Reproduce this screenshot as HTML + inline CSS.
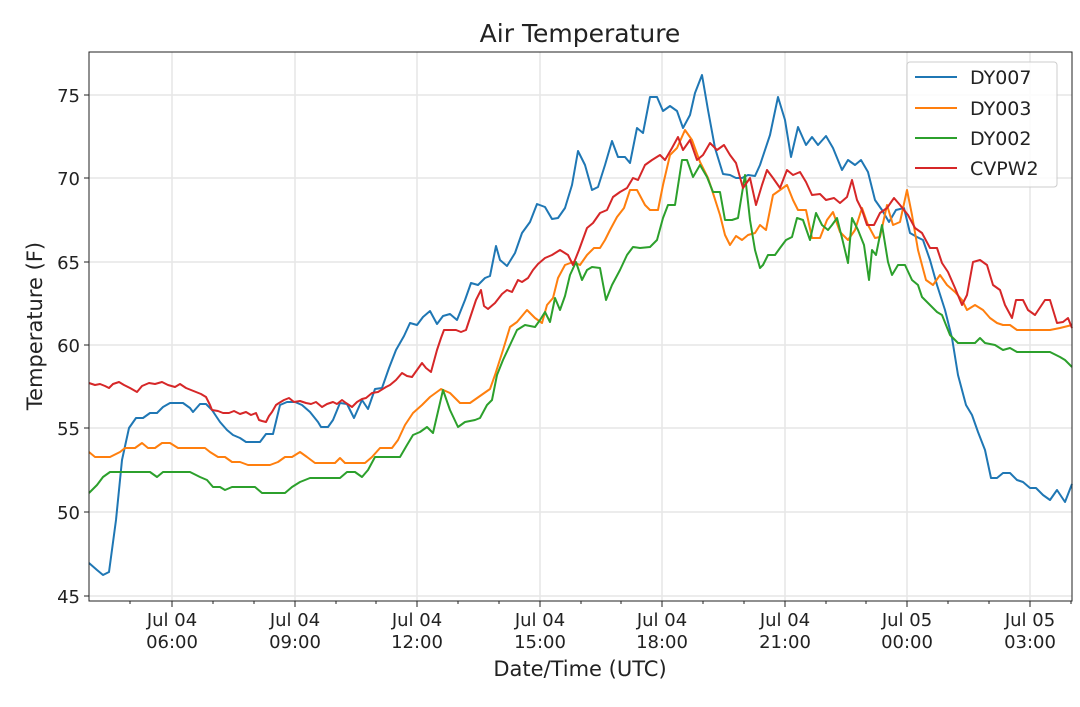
<!DOCTYPE html>
<html><head><meta charset="utf-8"><style>
body{margin:0;background:#fff;}
svg text{font-family:"DejaVu Sans","Liberation Sans",sans-serif;fill:#222;}
</style></head><body>
<svg width="1080" height="702" viewBox="0 0 1080 702" xmlns="http://www.w3.org/2000/svg">
<rect width="1080" height="702" fill="#fff"/>
<g stroke="#e6e6e6" stroke-width="1.5">
<line x1="172" y1="52" x2="172" y2="601"/><line x1="295" y1="52" x2="295" y2="601"/><line x1="417" y1="52" x2="417" y2="601"/><line x1="540" y1="52" x2="540" y2="601"/><line x1="662" y1="52" x2="662" y2="601"/><line x1="785" y1="52" x2="785" y2="601"/><line x1="907" y1="52" x2="907" y2="601"/><line x1="1030" y1="52" x2="1030" y2="601"/>
<line x1="89" y1="596" x2="1072" y2="596"/><line x1="89" y1="512" x2="1072" y2="512"/><line x1="89" y1="428" x2="1072" y2="428"/><line x1="89" y1="345" x2="1072" y2="345"/><line x1="89" y1="262" x2="1072" y2="262"/><line x1="89" y1="178" x2="1072" y2="178"/><line x1="89" y1="95" x2="1072" y2="95"/>
</g>
<g fill="none" stroke-width="2" stroke-linejoin="round">
<polyline stroke="#1f77b4" points="89,563 97,570 103,575 109,572 116,520 122,460 129,428 136,418 143,418 150,413 157,413 163,407 170,403 176,403 183,403 190,408 193,412 200,404 206,404 212,410 220,422 227,430 233,435 240,438 246,442 255,442 260,442 266,434 273,434 280,405 287,402 295,402 302,405 310,412 318,422 321,427 328,427 333,420 340,403 347,404 354,418 362,400 368,409 375,389 382,388 389,368 396,350 404,336 410,323 417,325 423,317 430,311 437,324 443,316 450,314 457,320 465,300 471,283 478,285 485,278 490,276 496,246 500,260 507,266 515,253 522,233 530,222 537,204 545,207 552,219 558,218 565,208 572,185 578,151 585,165 592,190 598,187 605,165 612,141 618,157 625,157 630,163 637,128 643,133 650,97 657,97 663,111 670,106 677,111 683,128 690,115 695,93 702,75 708,110 715,148 723,174 730,175 736,178 742,178 748,175 755,176 760,165 770,135 778,97 785,120 791,157 798,127 806,145 812,137 818,145 826,136 833,148 842,170 848,160 855,165 861,160 868,172 875,200 882,210 889,222 896,210 904,208 910,233 917,237 923,240 930,260 937,285 945,310 952,338 958,375 966,405 972,415 978,432 985,450 991,478 997,478 1003,473 1010,473 1017,480 1023,482 1030,488 1036,488 1043,495 1050,500 1057,490 1065,502 1072,484"/>
<polyline stroke="#ff7f0e" points="89,452 95,457 110,457 120,452 125,448 135,448 142,443 148,448 155,448 162,443 170,443 178,448 185,448 205,448 210,452 218,457 225,457 232,462 240,462 248,465 270,465 278,462 285,457 292,457 300,452 307,457 315,463 335,463 340,458 345,463 365,463 372,457 380,448 392,448 398,440 405,425 413,413 422,405 430,397 441,389 450,393 460,403 470,403 480,396 490,389 495,375 503,350 510,327 517,322 527,310 535,318 542,323 547,305 553,298 558,278 565,265 573,262 580,265 587,255 594,248 600,248 605,240 610,230 617,217 624,208 630,190 637,190 645,205 650,210 658,210 663,185 670,155 677,148 685,130 692,140 700,162 708,178 712,190 720,215 725,235 730,245 736,236 742,240 748,235 755,233 760,225 766,230 773,195 780,190 787,185 793,200 798,210 806,210 812,238 820,238 827,220 833,212 840,232 848,240 855,230 862,208 868,225 875,238 880,237 887,205 893,225 900,222 907,190 912,215 918,250 926,280 933,285 940,275 947,285 955,292 962,300 967,310 975,305 983,310 990,318 997,323 1003,325 1010,325 1017,330 1030,330 1040,330 1050,330 1060,328 1072,325"/>
<polyline stroke="#2ca02c" points="89,493 97,485 103,477 110,472 150,472 157,477 163,472 190,472 200,477 207,480 213,487 220,487 225,490 232,487 255,487 262,493 285,493 292,487 300,482 310,478 340,478 347,472 355,472 362,477 368,470 375,457 400,457 407,445 413,435 420,432 427,427 433,433 443,390 450,410 458,427 465,422 475,420 480,418 487,405 492,400 497,375 503,360 510,345 517,330 525,325 535,327 540,320 545,312 550,322 555,298 560,310 565,296 570,275 576,262 582,280 587,270 592,267 600,268 606,300 612,285 620,270 627,255 633,247 640,248 650,247 657,240 663,218 668,205 675,205 682,160 687,160 693,177 700,165 707,177 713,192 720,192 725,220 732,220 738,218 745,175 750,220 755,250 760,268 763,265 768,255 775,255 780,248 786,240 792,237 797,218 803,220 810,240 816,213 822,225 828,230 832,225 837,218 843,242 848,263 852,218 858,230 864,245 869,280 872,250 876,255 882,225 888,262 892,275 898,265 905,265 912,280 918,285 922,297 930,305 937,312 942,315 950,335 958,343 965,343 975,343 980,338 985,343 995,345 1003,350 1010,348 1017,352 1030,352 1050,352 1060,357 1065,360 1072,367"/>
<polyline stroke="#d62728" points="89,383 95,385 100,384 105,386 109,388 113,384 119,382 124,385 130,388 137,392 142,386 149,383 155,384 162,382 168,385 175,387 180,384 186,388 191,390 196,392 201,394 206,397 210,405 212,410 218,411 223,413 229,413 234,411 240,414 246,412 251,415 256,413 259,420 262,421 266,422 269,416 272,412 276,405 279,403 284,400 289,398 294,402 300,401 306,403 311,404 316,402 322,407 327,404 333,402 337,404 342,400 346,403 352,407 357,402 362,399 366,398 372,393 378,392 386,387 390,385 396,380 402,373 407,376 412,377 417,370 422,363 426,368 431,372 437,350 441,338 444,330 449,330 456,330 461,332 466,330 471,315 476,300 481,290 484,306 488,309 495,303 502,294 507,290 512,292 518,280 522,282 528,278 533,270 538,264 545,258 552,255 560,250 568,255 573,265 579,250 587,228 593,223 600,213 607,210 613,197 620,192 627,188 633,178 638,180 645,165 652,160 660,155 665,160 672,148 678,137 683,150 690,140 697,160 703,155 710,143 717,150 724,145 730,155 736,163 743,188 750,178 756,205 762,185 767,170 773,178 780,188 787,170 793,175 800,172 806,182 812,195 820,194 826,200 834,198 840,203 847,197 852,180 857,200 862,210 867,225 874,225 880,213 887,208 894,198 900,205 908,215 915,228 922,233 930,248 937,248 942,263 948,272 955,288 962,305 967,295 973,262 980,260 987,265 993,285 1000,290 1005,305 1012,318 1016,300 1023,300 1028,310 1035,315 1045,300 1050,300 1057,323 1063,322 1068,318 1072,328"/>
</g>
<rect x="89" y="52" width="983" height="549" fill="none" stroke="#222" stroke-width="1"/>
<g stroke="#222" stroke-width="1">
<line x1="84" y1="596" x2="89" y2="596"/><line x1="84" y1="512" x2="89" y2="512"/><line x1="84" y1="428" x2="89" y2="428"/><line x1="84" y1="345" x2="89" y2="345"/><line x1="84" y1="262" x2="89" y2="262"/><line x1="84" y1="178" x2="89" y2="178"/><line x1="84" y1="95" x2="89" y2="95"/>
<line x1="172" y1="601" x2="172" y2="607"/><line x1="295" y1="601" x2="295" y2="607"/><line x1="417" y1="601" x2="417" y2="607"/><line x1="540" y1="601" x2="540" y2="607"/><line x1="662" y1="601" x2="662" y2="607"/><line x1="785" y1="601" x2="785" y2="607"/><line x1="907" y1="601" x2="907" y2="607"/><line x1="1030" y1="601" x2="1030" y2="607"/>
<line x1="130" y1="601" x2="130" y2="604"/><line x1="213" y1="601" x2="213" y2="604"/><line x1="254" y1="601" x2="254" y2="604"/><line x1="336" y1="601" x2="336" y2="604"/><line x1="376" y1="601" x2="376" y2="604"/><line x1="458" y1="601" x2="458" y2="604"/><line x1="499" y1="601" x2="499" y2="604"/><line x1="581" y1="601" x2="581" y2="604"/><line x1="621" y1="601" x2="621" y2="604"/><line x1="703" y1="601" x2="703" y2="604"/><line x1="744" y1="601" x2="744" y2="604"/><line x1="826" y1="601" x2="826" y2="604"/><line x1="866" y1="601" x2="866" y2="604"/><line x1="948" y1="601" x2="948" y2="604"/><line x1="989" y1="601" x2="989" y2="604"/><line x1="1071" y1="601" x2="1071" y2="604"/>
</g>
<g font-size="18" text-anchor="end">
<text x="80" y="603">45</text><text x="80" y="519">50</text><text x="80" y="435">55</text><text x="80" y="352">60</text><text x="80" y="269">65</text><text x="80" y="185">70</text><text x="80" y="102">75</text>
</g>
<g font-size="18" text-anchor="middle">
<text x="172" y="626">Jul 04</text><text x="172" y="648">06:00</text>
<text x="295" y="626">Jul 04</text><text x="295" y="648">09:00</text>
<text x="417" y="626">Jul 04</text><text x="417" y="648">12:00</text>
<text x="540" y="626">Jul 04</text><text x="540" y="648">15:00</text>
<text x="662" y="626">Jul 04</text><text x="662" y="648">18:00</text>
<text x="785" y="626">Jul 04</text><text x="785" y="648">21:00</text>
<text x="907" y="626">Jul 05</text><text x="907" y="648">00:00</text>
<text x="1030" y="626">Jul 05</text><text x="1030" y="648">03:00</text>
<text x="580" y="676" font-size="21">Date/Time (UTC)</text>
<text x="580" y="42" font-size="25">Air Temperature</text>
<text transform="translate(42,326) rotate(-90)" font-size="21">Temperature (F)</text>
</g>
<rect x="907" y="62" width="150" height="125" rx="3" fill="#fff" fill-opacity="0.85" stroke="#ccc"/>
<g stroke-width="2">
<line x1="915" y1="77" x2="957" y2="77" stroke="#1f77b4"/>
<line x1="915" y1="108" x2="957" y2="108" stroke="#ff7f0e"/>
<line x1="915" y1="138" x2="957" y2="138" stroke="#2ca02c"/>
<line x1="915" y1="168" x2="957" y2="168" stroke="#d62728"/>
</g>
<g font-size="19">
<text x="970" y="84">DY007</text><text x="970" y="115">DY003</text><text x="970" y="145">DY002</text><text x="970" y="175">CVPW2</text>
</g>
</svg>
</body></html>
